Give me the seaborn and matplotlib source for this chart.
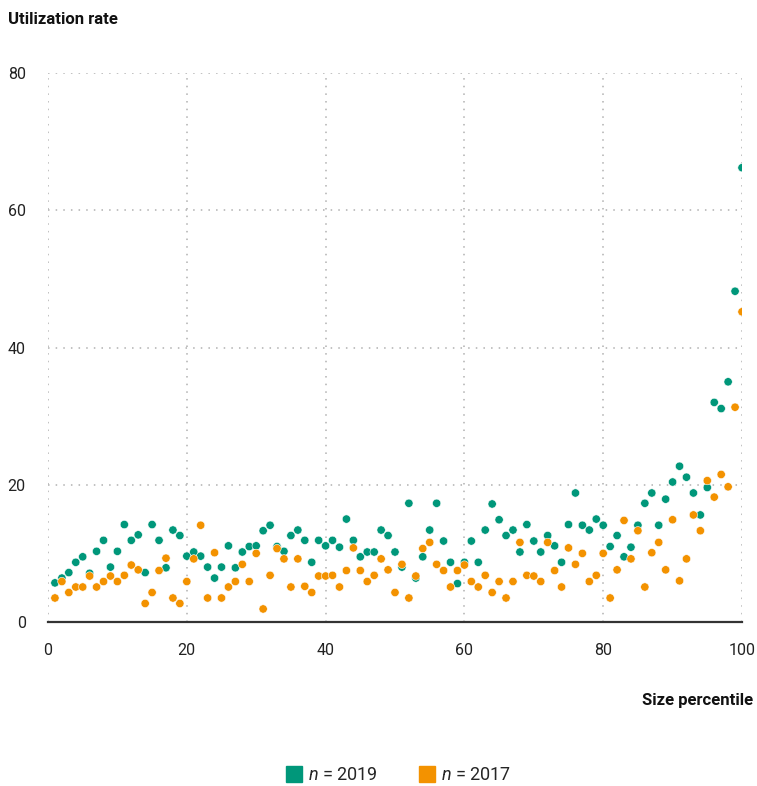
import pandas as pd
import numpy as np
import matplotlib
matplotlib.use('Agg')
import matplotlib.pyplot as plt
import seaborn as sns
from matplotlib.lines import Line2D

percentile = list(range(1, 101))

rate_2019 = [5.7, 6.4, 7.2, 8.7, 9.5, 7.1, 10.3, 11.9, 8.0, 10.3,
             14.2, 11.9, 12.7, 7.2, 14.2, 11.9, 7.9, 13.4, 12.6, 9.6,
             10.2, 9.6, 8.0, 6.4, 8.0, 11.1, 7.9, 10.2, 11.0, 11.1,
             13.3, 14.1, 11.0, 10.3, 12.6, 13.4, 11.9, 8.7, 11.9, 11.1,
             11.9, 10.9, 15.0, 11.9, 9.5, 10.2, 10.2, 13.4, 12.6, 10.2,
             8.0, 17.3, 6.4, 9.5, 13.4, 17.3, 11.8, 8.7, 5.6, 8.7,
             11.8, 8.7, 13.4, 17.2, 14.9, 12.6, 13.4, 10.2, 14.2, 11.8,
             10.2, 12.6, 11.1, 8.7, 14.2, 18.8, 14.1, 13.4, 15.0, 14.1,
             11.0, 12.6, 9.5, 10.9, 14.1, 17.3, 18.8, 14.1, 17.9, 20.4,
             22.7, 21.1, 18.8, 15.6, 19.6, 32.0, 31.1, 35.0, 48.2, 66.2]

rate_2017 = [3.5, 5.9, 4.3, 5.1, 5.1, 6.7, 5.1, 5.9, 6.7, 5.9,
             6.8, 8.3, 7.6, 2.7, 4.3, 7.5, 9.3, 3.5, 2.7, 5.9,
             9.2, 14.1, 3.5, 10.1, 3.5, 5.1, 5.9, 8.4, 5.9, 10.0,
             1.9, 6.8, 10.7, 9.2, 5.1, 9.2, 5.2, 4.3, 6.7, 6.7,
             6.8, 5.1, 7.5, 10.8, 7.5, 5.9, 6.8, 9.2, 7.6, 4.3,
             8.4, 3.5, 6.7, 10.7, 11.6, 8.4, 7.5, 5.1, 7.5, 8.3,
             5.9, 5.1, 6.8, 4.3, 5.9, 3.5, 5.9, 11.6, 6.8, 6.7,
             5.9, 11.6, 7.5, 5.1, 10.8, 8.4, 10.0, 5.9, 6.8, 10.0,
             3.5, 7.6, 14.8, 9.2, 13.3, 5.1, 10.1, 11.6, 7.6, 14.9,
             6.0, 9.2, 15.6, 13.3, 20.6, 18.2, 21.5, 19.7, 31.3, 45.2]

series = ['n = 2019', 'n = 2017']
colors = {'n = 2019': '#00977a', 'n = 2017': '#f39200'}

df = pd.concat([
    pd.DataFrame({'Percentile': percentile, 'Rate': rate_2019, 'Series': series[0]}),
    pd.DataFrame({'Percentile': percentile, 'Rate': rate_2017, 'Series': series[1]}),
])

sns.set_style('white')
plt.rcParams['font.family'] = ['Roboto', 'DejaVu Sans']
plt.rcParams['mathtext.fontset'] = 'custom'
plt.rcParams['mathtext.it'] = 'Roboto:italic'
plt.rcParams['mathtext.rm'] = 'Roboto'

fig = plt.figure(figsize=(7.57, 7.86), dpi=100)
ax = fig.add_axes([48/757, 1-622/786, (742-48)/757, (622-73)/786])

# 2017 first so 2019 sits on top
sns.scatterplot(data=df, x='Percentile', y='Rate', hue='Series',
                hue_order=['n = 2017', 'n = 2019'], palette=colors,
                s=36, edgecolor='white', linewidth=0.4, legend=False,
                ax=ax, zorder=3)

ax.set_xlim(0, 100)
ax.set_ylim(0, 80)
ax.set_xticks([0, 20, 40, 60, 80, 100])
ax.set_yticks([0, 20, 40, 60, 80])
ax.grid(True, linestyle=(0, (1, 4)), color='#b0b0b0', linewidth=1.1)
ax.set_axisbelow(True)
for sp in ['left', 'right', 'top']:
    ax.spines[sp].set_visible(False)
ax.spines['bottom'].set_color('#333333')
ax.spines['bottom'].set_linewidth(1.6)
ax.spines['bottom'].set_zorder(4)
ax.tick_params(axis='both', length=0, labelsize=11.5, colors='#222222')
ax.tick_params(axis='y', pad=16)
ax.tick_params(axis='x', pad=15)
ax.set_xlabel('')
ax.set_ylabel('')

fig.text(8/757, 1-20/786, 'Utilization rate', fontsize=12, fontweight='bold',
         ha='left', va='center', color='#111111')
fig.text(753/757, 1-700/786, 'Size percentile', fontsize=12, fontweight='bold',
         ha='right', va='center', color='#111111')

handles = [Line2D([], [], marker='s', linestyle='', markersize=11,
                  color=colors[s]) for s in series]
labels = [r'$n$ = 2019', r'$n$ = 2017']
fig.legend(handles, labels, loc='center', bbox_to_anchor=(398/757, 1-775/786),
           ncol=2, frameon=False, fontsize=13, handletextpad=0.3,
           columnspacing=2.2, handlelength=1.0)

fig.savefig('out.png', dpi=100)
